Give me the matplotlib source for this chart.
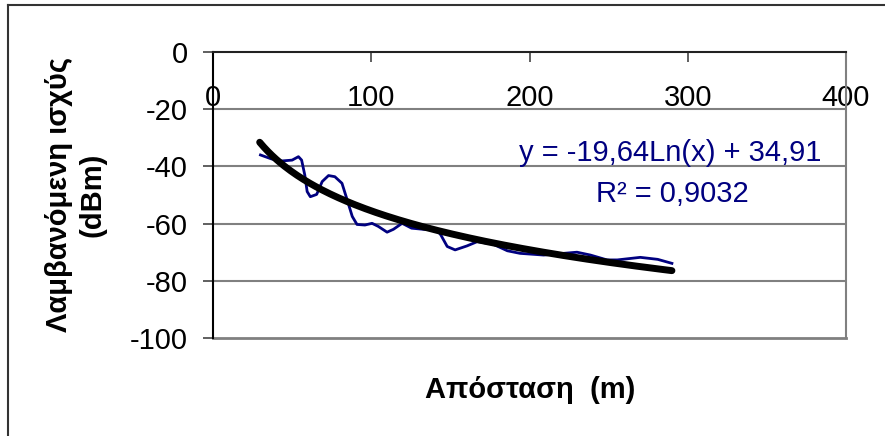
import numpy as np
import matplotlib
matplotlib.use("Agg")
import matplotlib.pyplot as plt
from matplotlib.lines import Line2D

plt.rcParams['font.family'] = ['Liberation Sans', 'DejaVu Sans']

# Measured received power vs distance
distance_m = [30, 37, 43.5, 50, 54, 56, 58, 59.5, 61.5, 65.5, 69, 73, 77, 81.5,
              84.5, 88, 91, 96, 100.5, 104.5, 110, 114, 119.5, 125.5, 133, 141.5,
              144, 148, 153, 160.5, 167, 177, 186, 194, 209, 230, 238.5, 249,
              255.5, 270, 281, 290]
power_dbm = [-36, -37.4, -38.1, -37.8, -36.6, -37.8, -43, -48.8, -50.6, -49.8,
             -45.3, -43.2, -43.6, -45.9, -51.2, -57.5, -60.3, -60.5, -59.9, -61,
             -63, -62, -59.9, -61.6, -62, -62.2, -64, -68, -69.2, -67.8, -66.3,
             -67.2, -69.5, -70.4, -71, -70, -71, -72.7, -72.7, -71.8, -72.5, -73.9]

# Logarithmic trendline coefficients (as displayed)
trend_a = -19.64
trend_b = 34.91
trend_range = [29.5, 290]
r_squared = "0,9032"

x_ticks = [0, 100, 200, 300, 400]
y_ticks = [0, -20, -40, -60, -80, -100]

W, H = 885, 436
fig = plt.figure(figsize=(W / 100, H / 100), dpi=100)
ax = fig.add_axes([213 / W, 1 - 338 / H, (846 - 213) / W, (338 - 52) / H])

ax.set_xlim(0, 400)
ax.set_ylim(-100, 0)

grid_c = '#808080'
for yv in y_ticks[1:-1]:
    ax.axhline(yv, color=grid_c, lw=1.5, zorder=1)

ax.plot(distance_m, power_dbm, color='#000080', lw=2.0, zorder=3,
        solid_joinstyle='round')

tx = np.linspace(trend_range[0], trend_range[1], 200)
ax.plot(tx, trend_a * np.log(tx) + trend_b, color='black', lw=5,
        solid_capstyle='round', zorder=4)

# spines
ax.spines['bottom'].set_position(('data', 0))
ax.spines['bottom'].set_color('#222222')
ax.spines['bottom'].set_linewidth(1.5)
ax.spines['left'].set_color('black')
ax.spines['left'].set_linewidth(1.5)
ax.spines['top'].set_visible(False)
ax.spines['right'].set_color(grid_c)
ax.spines['right'].set_linewidth(1.5)
ax.axhline(-100, color=grid_c, lw=2.0, zorder=2, clip_on=False)

ax.set_xticks(x_ticks)
ax.set_yticks(y_ticks)
ax.set_yticklabels([str(v) for v in y_ticks])
ax.set_xticklabels([str(v) for v in x_ticks])
ax.tick_params(axis='x', direction='out', length=7.2, width=1.2, color='#444444',
               labelsize=21, pad=16)
ax.tick_params(axis='y', direction='out', length=7.2, width=1.2, color='#444444',
               labelsize=21, pad=11)

# equation text
fig.text(670.5 / W, 1 - 153 / H, 'y = -19,64Ln(x) + 34,91', color='#000080',
         fontsize=21, ha='center', va='center')
fig.text(672 / W, 1 - 194 / H, 'R² = ' + r_squared, color='#000080',
         fontsize=21, ha='center', va='center')

# axis titles
fig.text(76 / W, 1 - 195 / H, 'Λαμβανόμενη ισχύς\n(dBm)', rotation=90,
         fontsize=21, fontweight='bold', ha='center', va='center',
         multialignment='center', linespacing=1.25)
fig.text(530 / W, 1 - 390 / H, 'Απόσταση  (m)', fontsize=21, fontweight='bold',
         ha='center', va='center')

# outer chart frame (left and top edges only visible)
fig.add_artist(Line2D([8 / W, 8 / W], [0, 1 - 5 / H], transform=fig.transFigure,
                      color='#333333', lw=1.5))
fig.add_artist(Line2D([8 / W, 1], [1 - 5 / H, 1 - 5 / H], transform=fig.transFigure,
                      color='#333333', lw=1.5))

fig.savefig('out.png', dpi=100)
